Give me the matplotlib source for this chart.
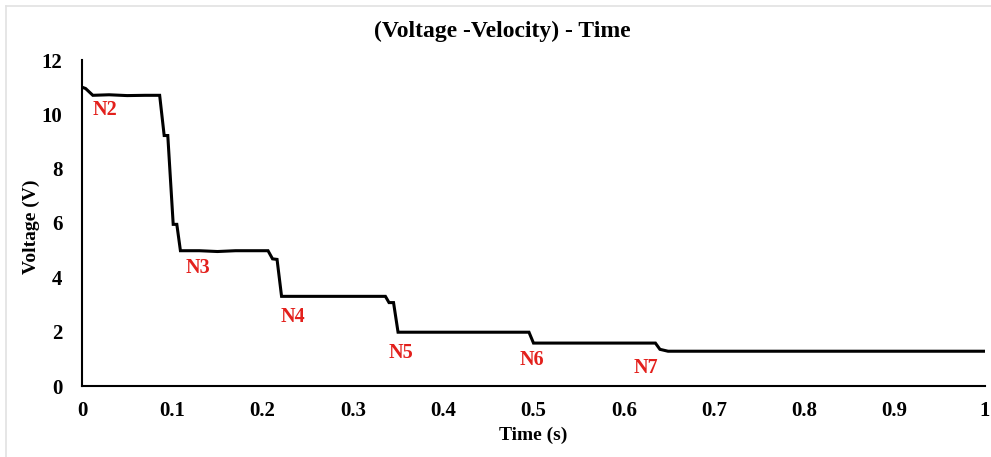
import matplotlib.pyplot as plt
from matplotlib.lines import Line2D

# voltage profile (time in s, voltage in V)
time_s = [0.0, 0.004, 0.012, 0.03, 0.05, 0.07, 0.086, 0.091, 0.095, 0.101, 0.105, 0.109,
          0.13, 0.15, 0.17, 0.206, 0.211, 0.216, 0.221,
          0.336, 0.340, 0.345, 0.350,
          0.495, 0.500,
          0.635, 0.640, 0.649, 1.0]
voltage = [11.0, 10.95, 10.7, 10.72, 10.69, 10.7, 10.7, 9.22, 9.22, 5.95, 5.95, 4.98,
           4.98, 4.95, 4.98, 4.98, 4.68, 4.66, 3.3,
           3.3, 3.07, 3.07, 1.98,
           1.98, 1.58,
           1.58, 1.35, 1.28, 1.28]

# node markers
node_names = ["N2", "N3", "N4", "N5", "N6", "N7"]
node_x = [0.025, 0.128, 0.233, 0.353, 0.498, 0.624]
node_y = [10.15, 4.33, 2.53, 1.2, 0.95, 0.68]

plt.rcParams['font.family'] = ['Liberation Serif', 'DejaVu Serif']

fig = plt.figure(figsize=(9.91, 4.57), dpi=100)
ax = fig.add_axes([82 / 991, 71 / 457, 903 / 991, 326 / 457])

ax.plot(time_s, voltage, color='black', linewidth=2.2, solid_joinstyle='miter')

for name, x, y in zip(node_names, node_x, node_y):
    ax.text(x, y, name, color='#E3201C', fontsize=14.5, fontweight='bold',
            ha='center', va='center')

ax.set_xlim(0, 1)
ax.set_ylim(0, 12)
ax.set_xticks([0, 0.1, 0.2, 0.3, 0.4, 0.5, 0.6, 0.7, 0.8, 0.9, 1.0])
ax.set_xticklabels(["0", "0.1", "0.2", "0.3", "0.4", "0.5", "0.6", "0.7", "0.8", "0.9", "1"])
ax.set_yticks([0, 2, 4, 6, 8, 10, 12])
ax.tick_params(length=0, labelsize=15)
for lbl in ax.get_xticklabels() + ax.get_yticklabels():
    lbl.set_fontweight('bold')
ax.tick_params(axis='x', pad=11)
ax.tick_params(axis='y', pad=14)

for side in ['top', 'right']:
    ax.spines[side].set_visible(False)
for side in ['left', 'bottom']:
    ax.spines[side].set_linewidth(1.5)

ax.set_xlabel("Time (s)", fontsize=14, fontweight='bold', labelpad=4)
ax.set_ylabel("Voltage (V)", fontsize=14, fontweight='bold')
ax.yaxis.set_label_coords(-42 / 903, 0.49)
fig.text(502 / 991, 1 - 31 / 457, "(Voltage -Velocity) - Time", fontsize=17,
         fontweight='bold', ha='center', va='center')

# chart area frame
fig.add_artist(Line2D([6 / 991, 1], [1 - 6 / 457, 1 - 6 / 457], color='#E2E2E2', linewidth=1.2))
fig.add_artist(Line2D([6 / 991, 6 / 991], [0, 1 - 6 / 457], color='#E2E2E2', linewidth=1.2))

fig.savefig("out.png", dpi=100)
